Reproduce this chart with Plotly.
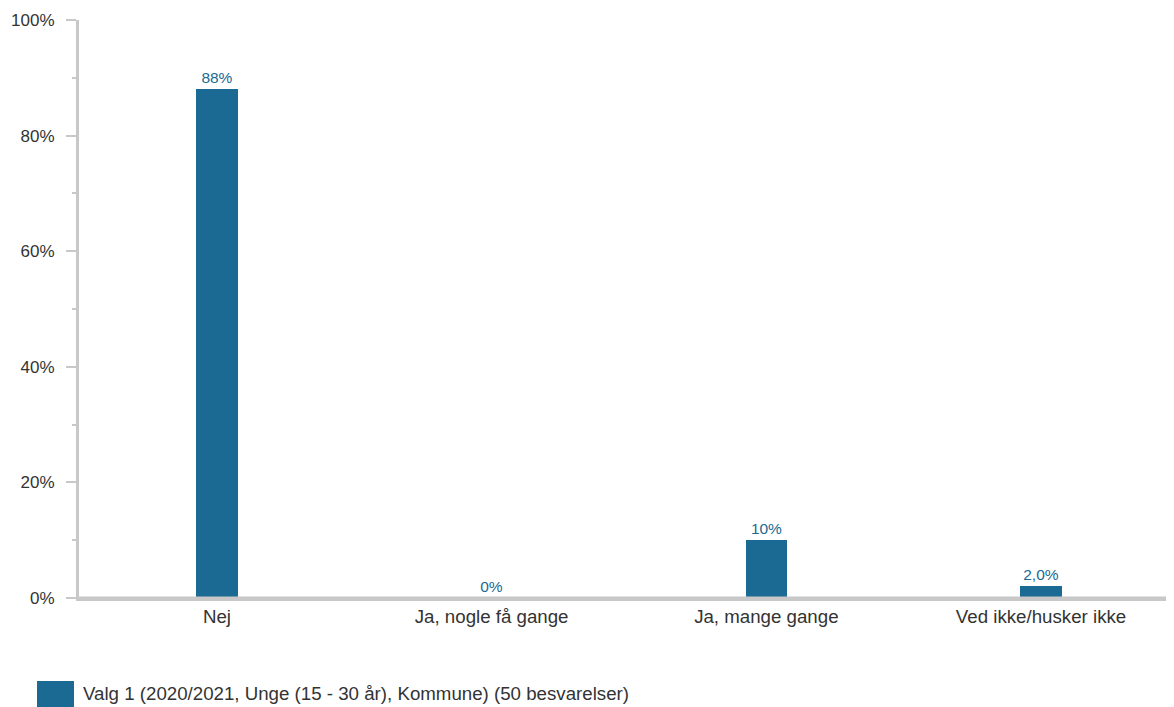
import plotly.graph_objects as go

categories = ["Nej", "Ja, nogle få gange", "Ja, mange gange", "Ved ikke/husker ikke"]
values = [88, 0, 10, 2.0]
labels = ["88%", "0%", "10%", "2,0%"]
series_name = "Valg 1 (2020/2021, Unge (15 - 30 år), Kommune) (50 besvarelser)"
ytick_vals = [0, 20, 40, 60, 80, 100]
ytick_text = ["0%", "20%", "40%", "60%", "80%", "100%"]

BLUE = "#1a6a94"
TXT = "#333333"
AX = "#c8c8c8"
FONT = "Liberation Sans, Arial, sans-serif"

OFF = 8  # page body margin
W, H = 1174 - OFF, 707 - OFF
L, T = 79 - OFF, 20 - OFF
R = 0
B = 707 - 598
pw, ph = W - L - R, H - T - B

def px2paper_x(px):
    return (px - OFF - L) / pw

def px2paper_y(py):
    return (H - B - (py - OFF)) / ph

fig = go.Figure()
fig.add_trace(go.Bar(
    x=list(range(len(categories))), y=values, text=labels,
    textposition="outside", cliponaxis=False,
    textfont=dict(color=BLUE, size=15.5, family=FONT),
    marker=dict(color=BLUE, line=dict(width=0)),
    width=0.15, name=series_name, showlegend=False,
))

fig.update_layout(
    width=W, height=H, autosize=False,
    margin=dict(l=L, r=R, t=T, b=B, pad=0),
    plot_bgcolor="white", paper_bgcolor="white",
    font=dict(family=FONT, color=TXT, size=17),
    bargap=0,
    xaxis=dict(
        range=[-0.502, 3.484], tickmode="array",
        tickvals=list(range(len(categories))), ticktext=categories,
        showgrid=False, zeroline=False, showline=True,
        linecolor=AX, linewidth=3, ticks="",
        tickfont=dict(size=18.7, color=TXT, family=FONT),
    ),
    yaxis=dict(
        range=[0, 100], tickmode="array", tickvals=ytick_vals, ticktext=ytick_text,
        showgrid=False, zeroline=False, showline=True,
        linecolor=AX, linewidth=3, ticks="outside", ticklen=10,
        tickcolor=AX, tickwidth=2, ticklabelstandoff=8,
        tickfont=dict(size=17, color=TXT, family=FONT),
        minor=dict(ticks="outside", ticklen=4, tickcolor=AX, tickwidth=2, dtick=10, tick0=0, showgrid=False),
    ),
)

# extend the baseline to the right edge of the page
fig.add_shape(type="line", xref="paper", yref="paper",
              x0=0, x1=px2paper_x(1180), y0=0, y1=0,
              line=dict(color=AX, width=3), layer="above")

# legend drawn manually to match the large swatch
fig.add_shape(type="rect", xref="paper", yref="paper",
              x0=px2paper_x(37), x1=px2paper_x(74),
              y0=px2paper_y(707), y1=px2paper_y(681),
              fillcolor=BLUE, line=dict(width=0))
fig.add_annotation(xref="paper", yref="paper", x=px2paper_x(81), y=px2paper_y(694),
                   xanchor="left", yanchor="middle", showarrow=False,
                   text=series_name, font=dict(size=18.7, color=TXT, family=FONT))

fig.write_html("out.html")
